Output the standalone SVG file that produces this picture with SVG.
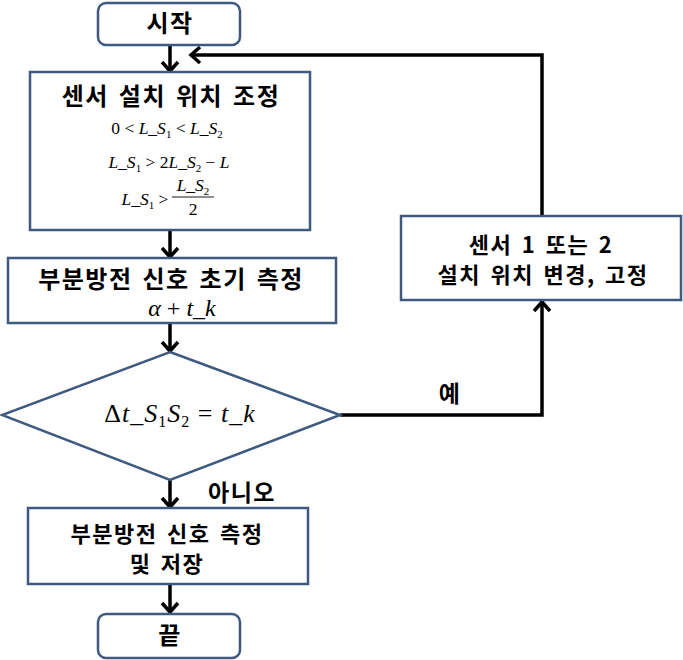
<svg xmlns="http://www.w3.org/2000/svg" width="683" height="660" viewBox="0 0 683 660">
<defs>
<style>
.box{fill:#fff;stroke:#3f5a80;stroke-width:2.5}
.con{fill:none;stroke:#000;stroke-width:3.5}
.kt{font-family:"Noto Sans CJK KR","Noto Sans",sans-serif;font-weight:bold;fill:#000;text-anchor:middle;letter-spacing:1.5px;word-spacing:3px}
.m{font-family:"Liberation Serif",serif;font-style:italic;fill:#000;text-anchor:middle}
.up{font-style:normal}
</style>
<marker id="ah" markerUnits="userSpaceOnUse" markerWidth="20" markerHeight="20" viewBox="-12 -10 14 20" refX="0" refY="0" orient="auto">
<path d="M-9,-8 L0,0 L-9,8" fill="none" stroke="#000" stroke-width="3.5"/>
</marker>
</defs>
<rect width="683" height="660" fill="#fff"/>
<g id="connectors">
<line class="con" x1="170" y1="45" x2="170" y2="71" marker-end="url(#ah)"/>
<line class="con" x1="170" y1="230" x2="170" y2="257" marker-end="url(#ah)"/>
<line class="con" x1="170" y1="323" x2="170" y2="351" marker-end="url(#ah)"/>
<line class="con" x1="170" y1="480" x2="170" y2="507" marker-end="url(#ah)"/>
<line class="con" x1="170" y1="584" x2="170" y2="612" marker-end="url(#ah)"/>
<polyline class="con" points="340,415 542,415 542,302" marker-end="url(#ah)"/>
<polyline class="con" points="542,216 542,55 191,55" marker-end="url(#ah)"/>
<text class="kt" x="450" y="402" font-size="23">예</text>
<text class="kt" x="242" y="501" font-size="23" font-weight="normal">아니오</text>
</g>
<g id="start">
<rect class="box" x="98" y="3" width="142" height="42" rx="8"/>
<text class="kt" x="170" y="32" font-size="24">시작</text>
</g>
<g id="adjust">
<rect class="box" x="30" y="72" width="280" height="158"/>
<text class="kt" x="171" y="105" font-size="24">센서 설치 위치 조정</text>
<text class="m" x="167" y="134" font-size="17.5"><tspan class="up">0 &lt; </tspan>L_S<tspan font-size="11" dy="4" class="up">1</tspan><tspan dy="-4" class="up"> &lt; </tspan>L_S<tspan font-size="11" dy="4" class="up">2</tspan></text>
<text class="m" x="169" y="168" font-size="17.5">L_S<tspan font-size="11" dy="4" class="up">1</tspan><tspan dy="-4" class="up"> &gt; 2</tspan>L_S<tspan font-size="11" dy="4" class="up">2</tspan><tspan dy="-4" class="up"> − </tspan>L</text>
<text class="m" font-size="17.5"><tspan x="145" y="205">L_S</tspan><tspan font-size="11" dy="4" class="up">1</tspan><tspan dy="-4" class="up"> &gt;</tspan><tspan x="193" y="191">L_S</tspan><tspan font-size="11" dy="4" class="up">2</tspan><tspan class="up" x="193" y="215">2</tspan></text>
<line x1="172" y1="197" x2="214" y2="197" stroke="#000" stroke-width="0.9"/>
</g>
<g id="initial">
<rect class="box" x="8" y="258" width="328" height="65"/>
<text class="kt" x="171" y="288" font-size="24">부분방전 신호 초기 측정</text>
<text class="m" x="182" y="316" font-size="24">α<tspan class="up"> + </tspan>t_k</text>
</g>
<g id="decision">
<polygon class="box" points="170,352 340,415 170,480 2,415"/>
<text class="m" x="180" y="422" font-size="26" letter-spacing="1"><tspan class="up">Δ</tspan>t_S<tspan font-size="16" dy="5" class="up">1</tspan><tspan dy="-5">S</tspan><tspan font-size="16" dy="5" class="up">2</tspan><tspan dy="-5" class="up"> = </tspan>t_k</text>
</g>
<g id="measure">
<rect class="box" x="28" y="508" width="280" height="76"/>
<text class="kt" font-size="22" letter-spacing="2"><tspan x="167" y="542">부분방전 신호 측정</tspan><tspan x="167" y="572">및 저장</tspan></text>
</g>
<g id="end">
<rect class="box" x="98" y="614" width="142" height="44" rx="8"/>
<text class="kt" x="170" y="644" font-size="24">끝</text>
</g>
<g id="change">
<rect class="box" x="401" y="216" width="280" height="84"/>
<text class="kt" font-size="22"><tspan x="541" y="253">센서 1 또는 2</tspan><tspan x="543" y="283">설치 위치 변경, 고정</tspan></text>
</g>
</svg>
